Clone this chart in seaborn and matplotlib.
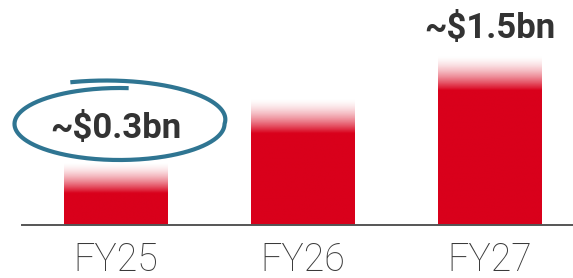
import numpy as np
import pandas as pd
import matplotlib
matplotlib.use("Agg")
import matplotlib.pyplot as plt
import seaborn as sns

sns.set_style("white")
plt.rcParams['font.family'] = ['Roboto', 'DejaVu Sans']

# --------------------------------
# Data (bar heights, arbitrary units)
# --------------------------------
years = ["FY25", "FY26", "FY27"]
bar_height = [63, 127, 170]      # top of the faded part
solid_height = [32, 92, 135]     # where the fade reaches full red
value_labels = ["~$0.3bn", "", "~$1.5bn"]

RED = "#d9001b"
TEAL = "#2f7592"
TEXT = "#333333"

df = pd.DataFrame({"year": years, "height": bar_height})

fig = plt.figure(figsize=(5.73, 2.78), dpi=100)
ax = fig.add_axes([22 / 573, 53 / 278, 551 / 573, 225 / 278])

sns.barplot(data=df, x="year", y="height", color=RED, width=0.556,
            saturation=1, ax=ax)

# --------------------------------
# Gradient fade at the top of every bar
# --------------------------------
rgb = matplotlib.colors.to_rgb(RED)
for patch, h, s in zip(ax.patches, bar_height, solid_height):
    x0, w = patch.get_x(), patch.get_width()
    n = 200
    ys = np.linspace(0, h, n)
    alpha = np.clip((h - ys) / (h - s), 0, 1) ** 1.6
    img = np.zeros((n, 1, 4))
    img[:, 0, :3] = rgb
    img[:, 0, 3] = alpha
    ax.imshow(img, extent=(x0, x0 + w, 0, h), origin="lower",
              aspect="auto", interpolation="bilinear", zorder=2)
    patch.set_visible(False)

ax.set_xlim(-0.5, -0.5 + 551 / 187)
ax.set_ylim(0, 225)

# value labels
ax.text(0, 97, value_labels[0], ha="center", va="center", fontsize=25,
        fontweight="bold", color=TEXT, zorder=4)
ax.text(2, 196, value_labels[2], ha="center", va="center", fontsize=25,
        fontweight="bold", color=TEXT, zorder=4)

# hand drawn ring around the FY25 label
theta = np.radians(np.linspace(85, 472, 400))
grow = 1 + np.clip((theta - 2 * np.pi) / (np.radians(472) - 2 * np.pi), 0, 1) * 0.25
cx, cy = (120 - 116) / 187, 101
ax.plot(cx + (105 / 187) * grow * np.cos(theta),
        cy + 36 * grow * np.sin(theta),
        color=TEAL, lw=3.0, solid_capstyle="butt", zorder=5, clip_on=False)

# axes styling
sns.despine(ax=ax, left=True, top=True, right=True)
ax.spines["bottom"].set_color("#555555")
ax.spines["bottom"].set_linewidth(1.4)
ax.spines["bottom"].set_zorder(3)
ax.set_yticks([])
ax.set_xlabel("")
ax.set_ylabel("")
ax.tick_params(axis="x", length=0, pad=12, labelsize=27, labelcolor="#3a3a3a")
for lab in ax.get_xticklabels():
    lab.set_fontweight("light")

fig.savefig("out.png", dpi=100)
